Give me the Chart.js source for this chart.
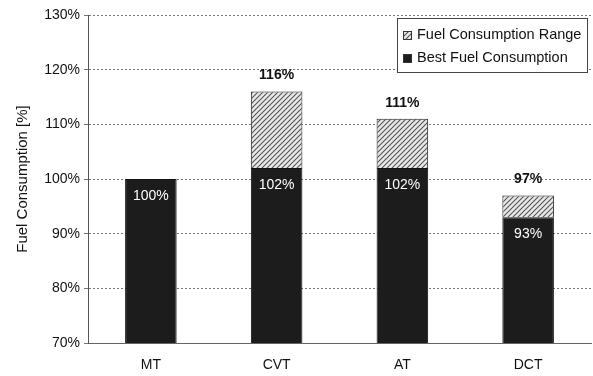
<!DOCTYPE html>
<html lang="en">
<head>
    <meta charset="UTF-8">
    <title>Fuel Consumption by Transmission</title>
    <script src="https://cdn.jsdelivr.net/npm/chart.js@4.4.1/dist/chart.umd.min.js"></script>
    <style>
        html, body { margin: 0; padding: 0; background: #fff; }
        #wrap { width: 593px; height: 376px; }
    </style>
</head>
<body>
<div id="wrap"><canvas id="fuelChart"></canvas></div>
<script>
    // data
    const transmissions = ['MT', 'CVT', 'AT', 'DCT'];
    const bestFuel = [100, 102, 102, 93];
    const rangeFuel = [0, 14, 9, 4];
    const totalLabels = ['', '116%', '111%', '97%'];
    const yTicks = [70, 80, 90, 100, 110, 120, 130];

    const FONT = '"Liberation Sans", Arial, sans-serif';

    // hatch pattern for the range part
    function makeHatch() {
        const c = document.createElement('canvas');
        c.width = 5; c.height = 5;
        const g = c.getContext('2d');
        g.fillStyle = '#e8e8e8';
        g.fillRect(0, 0, 5, 5);
        g.strokeStyle = '#555';
        g.lineWidth = 1.1;
        g.beginPath();
        g.moveTo(0, 5); g.lineTo(5, 0);
        g.moveTo(-2.5, 2.5); g.lineTo(2.5, -2.5);
        g.moveTo(2.5, 7.5); g.lineTo(7.5, 2.5);
        g.stroke();
        return g.createPattern(c, 'repeat');
    }
    const hatch = makeHatch();

    // value labels on and above the bars
    const barLabels = {
        id: 'barLabels',
        afterDatasetsDraw(chart) {
            const ctx = chart.ctx;
            const best = chart.getDatasetMeta(0).data;
            const top = chart.getDatasetMeta(1).data;
            ctx.save();
            ctx.textAlign = 'center';
            best.forEach((bar, i) => {
                ctx.font = '14px ' + FONT;
                ctx.fillStyle = '#fff';
                ctx.textBaseline = 'middle';
                ctx.fillText(bestFuel[i] + '%', bar.x, bar.y + 17);
                if (totalLabels[i]) {
                    ctx.font = 'bold 14px ' + FONT;
                    ctx.fillStyle = '#111';
                    ctx.textBaseline = 'middle';
                    ctx.fillText(totalLabels[i], top[i].x, top[i].y - 16);
                }
            });
            ctx.restore();
        }
    };

    // legend box inside the plot, top right
    const boxLegend = {
        id: 'boxLegend',
        afterDraw(chart) {
            const ctx = chart.ctx;
            const x0 = 397, y0 = 18, w = 190, h = 54;
            ctx.save();
            ctx.fillStyle = '#fff';
            ctx.fillRect(x0, y0, w, h);
            ctx.strokeStyle = '#444';
            ctx.lineWidth = 1;
            ctx.strokeRect(x0 + 0.5, y0 + 0.5, w, h);
            const items = [
                { label: chart.data.datasets[1].label, fill: hatch },
                { label: chart.data.datasets[0].label, fill: '#1c1c1c' }
            ];
            ctx.font = '14.5px ' + FONT;
            ctx.textBaseline = 'middle';
            ctx.textAlign = 'left';
            items.forEach((it, k) => {
                const cy = y0 + 17 + k * 23;
                ctx.fillStyle = it.fill;
                ctx.fillRect(x0 + 6, cy - 4, 9, 9);
                ctx.strokeStyle = '#333';
                ctx.strokeRect(x0 + 6.5, cy - 3.5, 8, 8);
                ctx.fillStyle = '#111';
                ctx.fillText(it.label, x0 + 20, cy);
            });
            ctx.restore();
        }
    };

    new Chart(document.getElementById('fuelChart'), {
        type: 'bar',
        data: {
            labels: transmissions,
            datasets: [
                {
                    label: 'Best Fuel Consumption',
                    data: bestFuel,
                    backgroundColor: '#1c1c1c',
                    borderColor: '#111',
                    borderWidth: 1,
                    borderSkipped: 'bottom',
                    categoryPercentage: 0.82,
                    barPercentage: 0.5
                },
                {
                    label: 'Fuel Consumption Range',
                    data: rangeFuel,
                    backgroundColor: hatch,
                    borderColor: '#222',
                    borderWidth: 1,
                    borderSkipped: 'bottom',
                    categoryPercentage: 0.82,
                    barPercentage: 0.5
                }
            ]
        },
        options: {
            responsive: true,
            maintainAspectRatio: false,
            animation: false,
            layout: { padding: { top: 15, right: 2, left: 0, bottom: 0 } },
            plugins: {
                legend: { display: false },
                tooltip: { enabled: false }
            },
            scales: {
                x: {
                    stacked: true,
                    grid: { display: false, drawTicks: false },
                    border: { color: '#666' },
                    ticks: {
                        color: '#111',
                        padding: 14,
                        font: { family: FONT, size: 14 }
                    },
                    afterFit(scale) { scale.height = 33; }
                },
                y: {
                    stacked: true,
                    min: 70,
                    max: 130,
                    afterBuildTicks(scale) {
                        scale.ticks = yTicks.map(v => ({ value: v }));
                    },
                    grid: {
                        color: '#777',
                        tickLength: 4,
                        lineWidth: 1
                    },
                    border: { color: '#555', dash: [2, 2] },
                    ticks: {
                        color: '#111',
                        padding: 4,
                        font: { family: FONT, size: 14 },
                        callback: v => v + '%'
                    },
                    title: {
                        display: true,
                        text: 'Fuel Consumption [%]',
                        color: '#111',
                        padding: { top: 14, bottom: 0 },
                        font: { family: FONT, size: 15 }
                    },
                    afterFit(scale) { scale.width = 88; }
                }
            }
        },
        plugins: [barLabels, boxLegend]
    });
</script>
</body>
</html>
